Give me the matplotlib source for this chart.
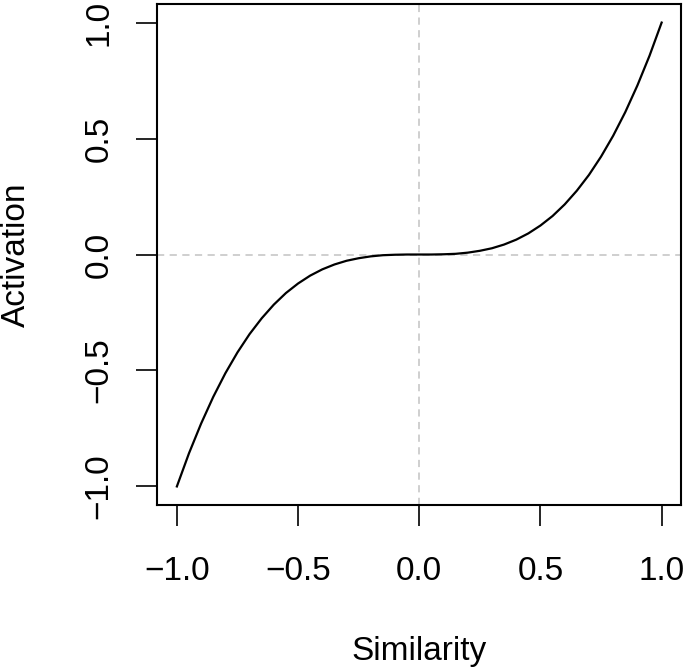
import numpy as np
import matplotlib.pyplot as plt

plt.rcParams['font.family'] = ['Liberation Sans', 'DejaVu Sans']

# values
similarity = [-1.00, -0.95, -0.90, -0.85, -0.80, -0.75, -0.70, -0.65, -0.60, -0.55,
              -0.50, -0.45, -0.40, -0.35, -0.30, -0.25, -0.20, -0.15, -0.10, -0.05,
              0.00, 0.05, 0.10, 0.15, 0.20, 0.25, 0.30, 0.35, 0.40, 0.45,
              0.50, 0.55, 0.60, 0.65, 0.70, 0.75, 0.80, 0.85, 0.90, 0.95, 1.00]
activation = [-1.000, -0.857, -0.729, -0.614, -0.512, -0.422, -0.343, -0.275, -0.216, -0.166,
              -0.125, -0.091, -0.064, -0.043, -0.027, -0.016, -0.008, -0.003, -0.001, 0.000,
              0.000, 0.000, 0.001, 0.003, 0.008, 0.016, 0.027, 0.043, 0.064, 0.091,
              0.125, 0.166, 0.216, 0.275, 0.343, 0.422, 0.512, 0.614, 0.729, 0.857, 1.000]
ticks = [-1.0, -0.5, 0.0, 0.5, 1.0]
tick_labels = ['\u22121.0', '\u22120.5', '0.0', '0.5', '1.0']

fig = plt.figure(figsize=(6.85, 6.71), dpi=100)
ax = fig.add_axes([0.2299, 0.2474, 0.7643, 0.7466])

ax.axhline(0, color='#cccccc', ls=(0, (4, 3)), lw=1.3, zorder=1)
ax.axvline(0, color='#cccccc', ls=(0, (4, 3)), lw=1.3, zorder=1)
ax.plot(similarity, activation, color='black', lw=1.6, zorder=2)

ax.set_xlim(-1.08, 1.08)
ax.set_ylim(-1.08, 1.08)
ax.set_xticks(ticks)
ax.set_xticklabels(tick_labels)
ax.set_yticks(ticks)
ax.set_yticklabels(tick_labels, rotation=90, va='center')
ax.tick_params(length=15, width=1.2, labelsize=24)
ax.tick_params(axis='x', pad=22)
ax.tick_params(axis='y', pad=16)

for s in ax.spines.values():
    s.set_linewidth(1.5)

ax.set_xlabel('Similarity', fontsize=24)
ax.set_ylabel('Activation', fontsize=24)
ax.xaxis.set_label_coords(0.5, -0.261)
ax.yaxis.set_label_coords(-0.24, 0.5)

fig.savefig('out.png', dpi=100)
